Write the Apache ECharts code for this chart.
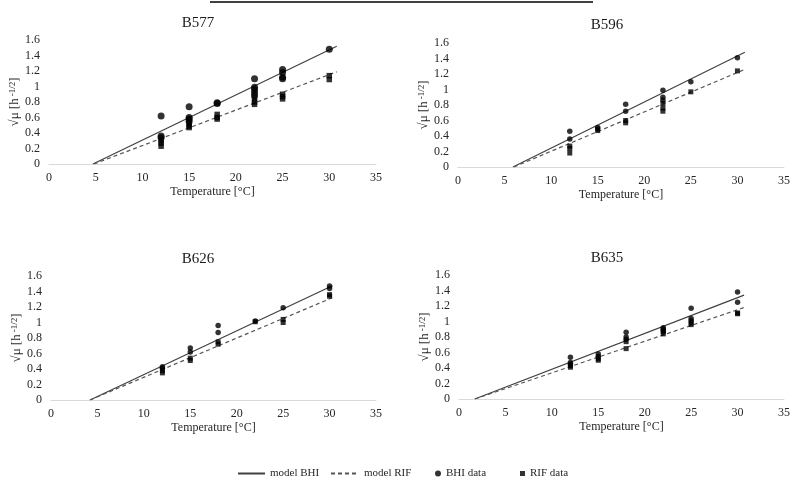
<!DOCTYPE html>
<html>
<head>
<meta charset="utf-8">
<script src="https://cdn.jsdelivr.net/npm/echarts@6/dist/echarts.min.js"></script>
<style>
  html, body { margin: 0; padding: 0; background: #fff; }
  #chart { width: 793px; height: 482px; }
</style>
</head>
<body>
<div id="chart"></div>
<script>
// Axis ranges shared by the four strain panels
const tempRange = [0, 35];
const tempStep = 5;
const rateRange = [0, 1.6];
const rateStep = 0.2;

const strainNames = ['B577', 'B596', 'B626', 'B635'];

// Observed sqrt growth rates [T (°C), sqrt(mu)]
const bhiB577 = [[12,0.62],[12,0.36],[12,0.34],[15,0.74],[15,0.60],[15,0.58],[15,0.55],[18,0.79],[18,0.78],
                 [22,1.10],[22,0.99],[22,0.96],[22,0.92],[22,0.88],[25,1.22],[25,1.18],[25,1.12],[25,1.10],[30,1.48]];
const rifB577 = [[12,0.30],[12,0.27],[12,0.23],[15,0.52],[15,0.49],[15,0.47],[18,0.64],[18,0.60],[18,0.58],
                 [22,0.84],[22,0.80],[22,0.77],[25,0.90],[25,0.87],[25,0.84],[30,1.14],[30,1.09]];
const bhiB596 = [[12,0.46],[12,0.36],[15,0.51],[18,0.81],[18,0.72],[22,0.99],[22,0.90],[22,0.86],[25,1.10],[30,1.41]];
const rifB596 = [[12,0.27],[12,0.24],[12,0.18],[15,0.49],[15,0.47],[18,0.60],[18,0.57],[22,0.82],[22,0.76],[22,0.72],
                 [25,0.97],[30,1.24]];
const bhiB626 = [[12,0.43],[12,0.41],[15,0.67],[15,0.62],[18,0.96],[18,0.87],[22,1.02],[25,1.19],[30,1.47],[30,1.44]];
const rifB626 = [[12,0.38],[12,0.35],[15,0.54],[15,0.51],[18,0.75],[18,0.72],[22,1.01],[25,1.04],[25,1.00],[30,1.36],[30,1.34]];
const bhiB635 = [[12,0.54],[12,0.47],[12,0.45],[15,0.58],[15,0.55],[18,0.86],[18,0.80],[18,0.77],[22,0.92],[22,0.90],
                 [22,0.88],[25,1.17],[25,1.04],[25,1.01],[30,1.38],[30,1.25]];
const rifB635 = [[12,0.43],[12,0.41],[15,0.52],[15,0.50],[18,0.74],[18,0.65],[22,0.87],[22,0.84],[25,0.98],[25,0.96],
                 [30,1.11],[30,1.10]];

// Fitted Ratkowsky model lines (from Tmin to upper end)
const modelBhiB577 = [[4.7,0],[30.8,1.52]];
const modelRifB577 = [[4.8,0],[30.8,1.19]];
const modelBhiB596 = [[5.9,0],[30.8,1.48]];
const modelRifB596 = [[6.0,0],[30.8,1.26]];
const modelBhiB626 = [[4.2,0],[30.3,1.475]];
const modelRifB626 = [[4.2,0],[30.3,1.32]];
const modelBhiB635 = [[1.7,0],[30.7,1.34]];
const modelRifB635 = [[1.7,0],[30.7,1.18]];

const bhiData = [bhiB577, bhiB596, bhiB626, bhiB635];
const rifData = [rifB577, rifB596, rifB626, rifB635];
const bhiModel = [modelBhiB577, modelBhiB596, modelBhiB626, modelBhiB635];
const rifModel = [modelRifB577, modelRifB596, modelRifB626, modelRifB635];

const FONT = '"Liberation Serif", "Times New Roman", serif';
const TEXT = '#262626';

// Plot-area placement of each panel
const grids = [
  { left: 49,  top: 40,  width: 327, height: 124 },
  { left: 458, top: 43,  width: 328, height: 124 },
  { left: 51,  top: 276, width: 325, height: 124 },
  { left: 459, top: 275, width: 327, height: 124 }
];
const titlePos = [[193, 11], [602, 13], [193, 247], [602, 246]];
const circleSize = [7, 5.5, 5.5, 5.5];
const squareSize = [5.5, 5, 5, 5];

const legendText = { fontFamily: FONT, fontSize: 11, color: TEXT };

const option = {
  backgroundColor: '#fff',
  animation: false,
  title: strainNames.map((n, i) => ({
    text: n, left: titlePos[i][0], top: titlePos[i][1], textAlign: 'center',
    textStyle: { fontFamily: FONT, fontSize: 15, fontWeight: 'normal', color: '#1a1a1a' }
  })),
  grid: grids,
  xAxis: grids.map((g, i) => ({
    type: 'value', gridIndex: i, min: tempRange[0], max: tempRange[1], interval: tempStep,
    name: 'Temperature [°C]', nameLocation: 'middle', nameGap: 22,
    nameTextStyle: { fontFamily: FONT, fontSize: 12, color: TEXT },
    axisLine: { show: true, lineStyle: { color: '#d9d9d9', width: 1 } },
    axisTick: { show: false }, splitLine: { show: false },
    axisLabel: { fontFamily: FONT, fontSize: 12, color: TEXT, margin: 8 }
  })),
  yAxis: grids.map((g, i) => ({
    type: 'value', gridIndex: i, min: rateRange[0], max: rateRange[1], interval: rateStep,
    name: '√μ [h{sup|-1/2}]', nameLocation: 'middle', nameGap: 28,
    nameTextStyle: {
      fontFamily: FONT, fontSize: 13, color: TEXT,
      rich: { sup: { fontFamily: FONT, fontSize: 9, color: TEXT, verticalAlign: 'top', padding: [0, 0, 0, 2] } }
    },
    axisLine: { show: false }, axisTick: { show: false }, splitLine: { show: false },
    axisLabel: { fontFamily: FONT, fontSize: 12, color: TEXT, margin: 9 }
  })),
  legend: [
    { data: ['model BHI'], left: 232, top: 463, itemWidth: 27, itemHeight: 10, selectedMode: false,
      itemStyle: { opacity: 0 }, textStyle: legendText },
    { data: ['model RIF'], left: 325, top: 463, itemWidth: 28, itemHeight: 10, selectedMode: false,
      itemStyle: { opacity: 0 }, textStyle: legendText },
    { data: [{ name: 'BHI data', icon: 'circle' }], left: 430, top: 463, itemWidth: 6, itemHeight: 6, selectedMode: false,
      textStyle: legendText },
    { data: [{ name: 'RIF data', icon: 'rect' }], left: 515, top: 463, itemWidth: 5, itemHeight: 5, selectedMode: false,
      textStyle: legendText }
  ],
  graphic: [
    { type: 'line', shape: { x1: 210, y1: 2, x2: 593, y2: 2 }, style: { stroke: '#000', lineWidth: 1.5 } }
  ],
  series: []
};

for (let i = 0; i < strainNames.length; i++) {
  option.series.push(
    { type: 'line', name: 'model BHI', xAxisIndex: i, yAxisIndex: i, data: bhiModel[i], symbol: 'none',
      itemStyle: { color: '#404040' }, lineStyle: { color: '#404040', width: 1.2 }, z: 2 },
    { type: 'line', name: 'model RIF', xAxisIndex: i, yAxisIndex: i, data: rifModel[i], symbol: 'none',
      itemStyle: { color: '#555' }, lineStyle: { color: '#555', width: 1.2, type: [4, 3] }, z: 2 },
    { type: 'scatter', name: 'BHI data', xAxisIndex: i, yAxisIndex: i, data: bhiData[i], symbol: 'circle',
      symbolSize: circleSize[i], itemStyle: { color: '#000' }, z: 3 },
    { type: 'scatter', name: 'RIF data', xAxisIndex: i, yAxisIndex: i, data: rifData[i], symbol: 'rect',
      symbolSize: squareSize[i], itemStyle: { color: '#000' }, z: 3 }
  );
}

const chart = echarts.init(document.getElementById('chart'), null, { renderer: 'canvas' });
chart.setOption(option);
</script>
</body>
</html>
